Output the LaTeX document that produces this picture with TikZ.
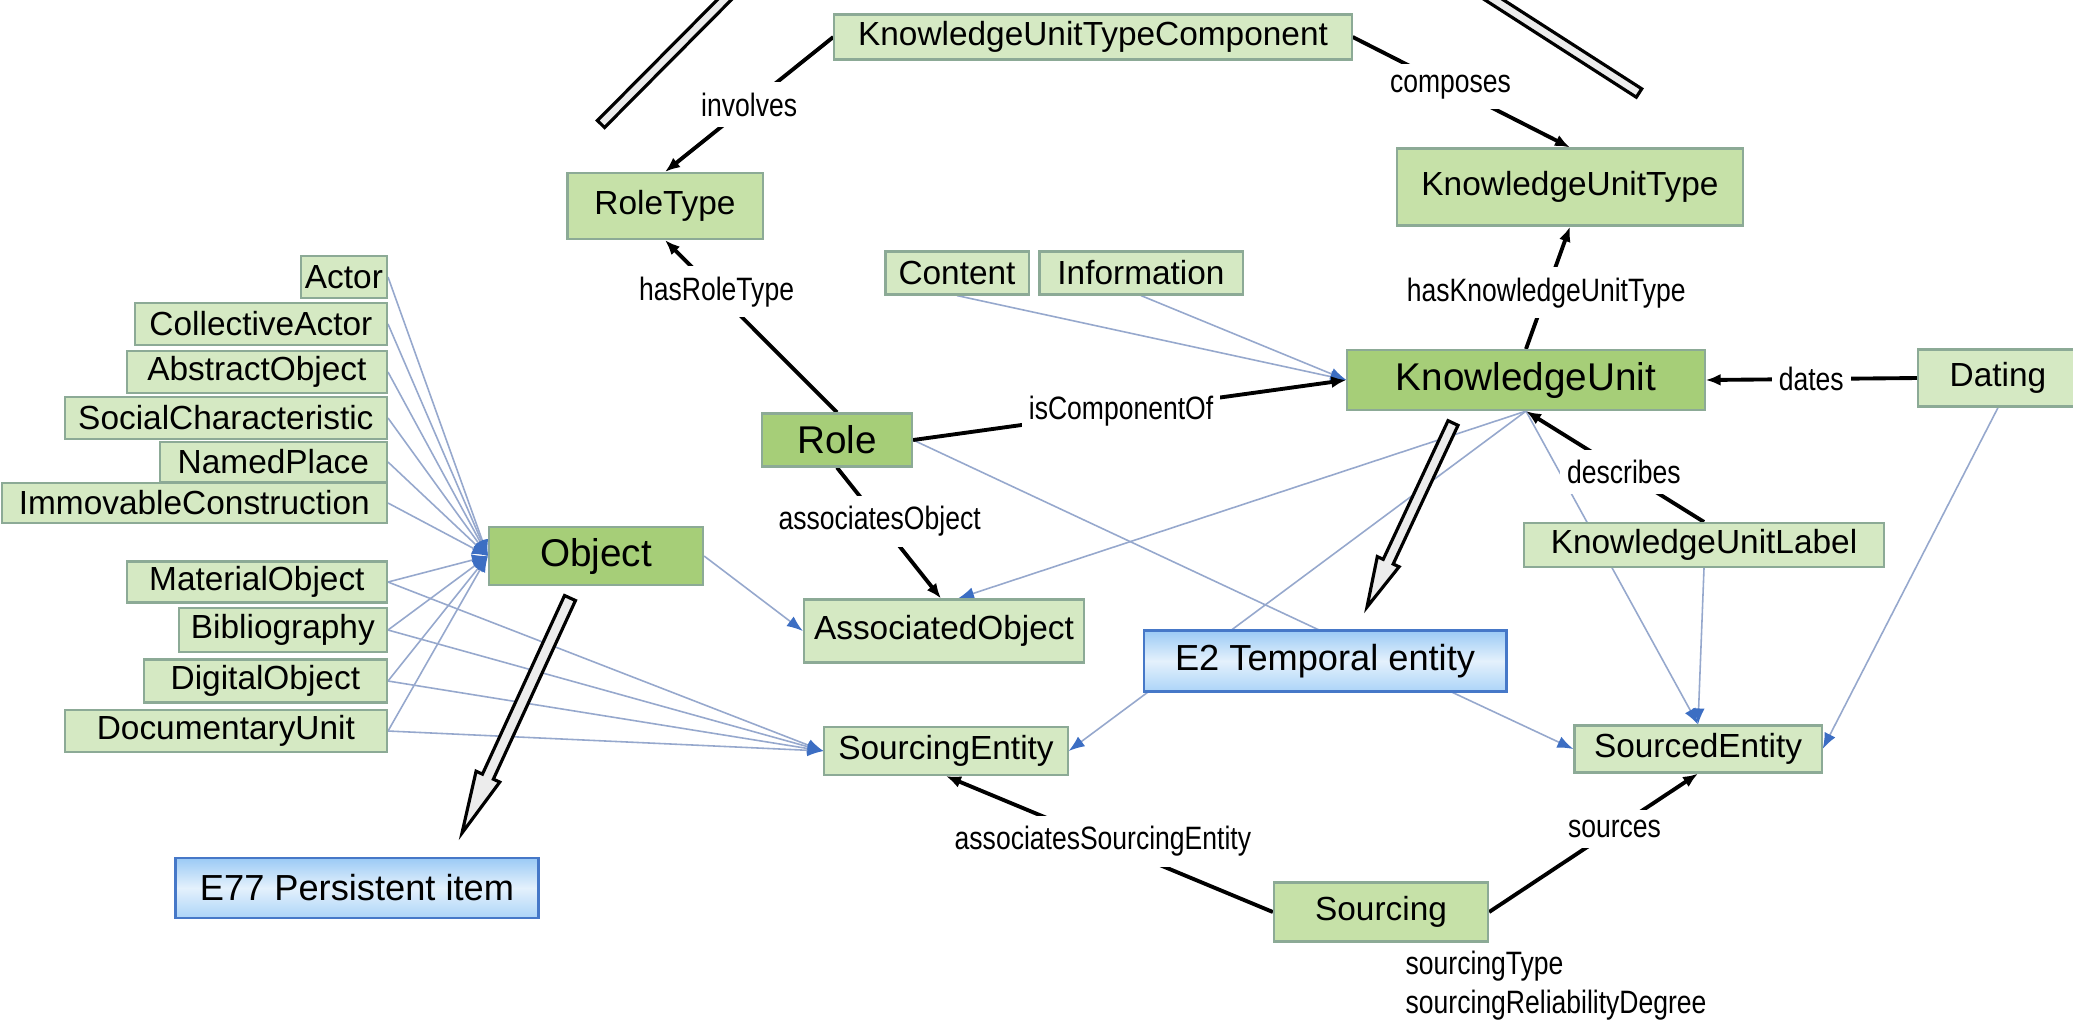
\documentclass[tikz,border=0pt]{standalone}
\usepackage{fontspec}
\setmainfont{Liberation Sans}
\newfontfamily\lblfont[FakeStretch=0.82]{Liberation Sans}
\usetikzlibrary{arrows.meta,calc,backgrounds}

\definecolor{boxfill}{RGB}{213,233,195}
\definecolor{boxmid}{RGB}{198,225,168}
\definecolor{boxdark}{RGB}{166,206,120}
\definecolor{boxline}{RGB}{140,170,150}
\definecolor{sublink}{RGB}{150,168,205}
\definecolor{subtip}{RGB}{60,110,195}
\definecolor{ebord}{RGB}{70,120,200}
\definecolor{etop}{RGB}{155,202,245}
\definecolor{emid}{RGB}{228,241,252}
\definecolor{ebot}{RGB}{172,212,248}
\definecolor{hollowgray}{RGB}{236,236,236}

\tikzset{
  cls/.style={draw=boxline, fill=boxfill, line width=0.6pt, inner sep=0pt,
    font=\fontsize{9.5}{11}\selectfont},
  clsmid/.style={cls, fill=boxmid},
  clsmain/.style={cls, fill=boxdark, font=\fontsize{11}{13}\selectfont},
  cidoc/.style={draw=ebord, line width=0.8pt, top color=etop, bottom color=ebot,
    middle color=emid, inner sep=0pt, font=\fontsize{10.3}{12}\selectfont},
  rel/.style={line width=1.1pt, -{Latex[length=0.15cm,width=0.12cm]}},
  sub/.style={draw=sublink, line width=0.45pt,
    -{Latex[length=0.16cm,width=0.12cm,color=subtip]}},
  lbl/.style={fill=white, inner xsep=2pt, inner ysep=3pt,
    font={\lblfont\fontsize{9.2}{11.3}\selectfont}},
  hollow/.style={draw=black, fill=hollowgray, line width=0.9pt, line join=miter},
}

% big hollow arrow: from, tip, shaft half width, head half width, head length
\newcommand{\hollowarrow}[5]{%
  \coordinate (hh) at ($(#2)!#5!(#1)$);
  \draw[hollow] ($(#1)!#3!90:(#2)$) -- ($(hh)!#3!90:(#2)$) -- ($(hh)!#4!90:(#2)$) -- (#2)
    -- ($(hh)!#4!-90:(#2)$) -- ($(hh)!#3!-90:(#2)$) -- ($(#1)!#3!-90:(#2)$) -- cycle;
}
% hollow bar: from, to, half width
\newcommand{\hollowbar}[3]{%
  \draw[hollow] ($(#1)!#3!90:(#2)$) -- ($(#2)!#3!-90:(#1)$)
    -- ($(#2)!#3!90:(#1)$) -- ($(#1)!#3!-90:(#2)$) -- cycle;
}

\begin{document}
\begin{tikzpicture}[x=0.01cm, y=-0.01cm]
  \useasboundingbox (0,0) rectangle (2073,1032);
  \clip (0,0) rectangle (2073,1032);

  % Knowledge unit part
  \node[cls, minimum width=5.17cm, minimum height=0.45cm] (kutc) at (1093,37) {KnowledgeUnitTypeComponent};
  \node[clsmid, minimum width=1.95cm, minimum height=0.66cm] (roletype) at (665,206) {RoleType};
  \node[clsmid, minimum width=3.45cm, minimum height=0.77cm] (kut) at (1570,187) {KnowledgeUnitType};
  \node[cls, minimum width=1.43cm, minimum height=0.43cm] (content) at (957,273) {Content};
  \node[cls, minimum width=2.03cm, minimum height=0.43cm] (information) at (1141,273) {Information};
  \node[clsmain, minimum width=3.57cm, minimum height=0.60cm] (ku) at (1526,380) {KnowledgeUnit};
  \node[cls, minimum width=1.60cm, minimum height=0.57cm] (dating) at (1998,378) {Dating};
  \node[clsmain, minimum width=1.50cm, minimum height=0.53cm] (role) at (837,440) {Role};
  \node[clsmain, minimum width=2.14cm, minimum height=0.58cm] (object) at (596,556) {Object};
  \node[cls, minimum width=2.80cm, minimum height=0.63cm] (assocobj) at (944,631) {AssociatedObject};
  \node[cls, minimum width=3.60cm, minimum height=0.44cm] (kul) at (1704,545) {KnowledgeUnitLabel};
  \node[cls, minimum width=2.43cm, minimum height=0.48cm] (sourcingent) at (946,751) {SourcingEntity};
  \node[cls, minimum width=2.47cm, minimum height=0.47cm] (sourcedent) at (1698,749) {SourcedEntity};
  \node[clsmid, minimum width=2.14cm, minimum height=0.59cm] (sourcing) at (1381,912) {Sourcing};
  \node[lbl, fill=none, inner sep=0pt, anchor=north west, align=left] (sattr) at (1405,950)
    {sourcingType\\sourcingReliabilityDegree};

  % Object subclasses
  \node[cls, anchor=east, minimum width=0.86cm, minimum height=0.42cm] (actor) at (388,277) {Actor};
  \node[cls, anchor=east, minimum width=2.52cm, minimum height=0.42cm] (collactor) at (388,324) {CollectiveActor};
  \node[cls, anchor=east, minimum width=2.60cm, minimum height=0.42cm] (abstractobj) at (388,372) {AbstractObject};
  \node[cls, anchor=east, minimum width=3.22cm, minimum height=0.42cm] (socialchar) at (388,418) {SocialCharacteristic};
  \node[cls, anchor=east, minimum width=2.27cm, minimum height=0.40cm] (namedplace) at (388,462) {NamedPlace};
  \node[cls, anchor=east, minimum width=3.85cm, minimum height=0.40cm] (immovable) at (388,503) {ImmovableConstruction};
  \node[cls, anchor=east, minimum width=2.60cm, minimum height=0.41cm] (materialobj) at (388,582) {MaterialObject};
  \node[cls, anchor=east, minimum width=2.08cm, minimum height=0.44cm] (biblio) at (388,630) {Bibliography};
  \node[cls, anchor=east, minimum width=2.43cm, minimum height=0.43cm] (digitalobj) at (388,681) {DigitalObject};
  \node[cls, anchor=east, minimum width=3.22cm, minimum height=0.42cm] (docunit) at (388,731) {DocumentaryUnit};

  % CIDOC CRM callouts
  \node[cidoc, minimum width=3.62cm, minimum height=0.61cm] (tempent) at (1325,661) {E2 Temporal entity};
  \node[cidoc, minimum width=3.63cm, minimum height=0.60cm] (persitem) at (357,888) {E77 Persistent item};

  \begin{scope}[on background layer]
    \fill[white] (0,0) rectangle (2073,1032);

    % subclass links
    \draw[sub] (actor.east) -- (object.west);
    \draw[sub] (collactor.east) -- (object.west);
    \draw[sub] (abstractobj.east) -- (object.west);
    \draw[sub] (socialchar.east) -- (object.west);
    \draw[sub] (namedplace.east) -- (object.west);
    \draw[sub] (immovable.east) -- (object.west);
    \draw[sub] (materialobj.east) -- (object.west);
    \draw[sub] (biblio.east) -- (object.west);
    \draw[sub] (digitalobj.east) -- (object.west);
    \draw[sub] (docunit.east) -- (object.west);
    \draw[sub] (materialobj.east) -- (sourcingent.west);
    \draw[sub] (biblio.east) -- (sourcingent.west);
    \draw[sub] (digitalobj.east) -- (sourcingent.west);
    \draw[sub] (docunit.east) -- (sourcingent.west);
    \draw[sub] (object.east) -- (assocobj.west);
    \draw[sub] (content.south) -- (ku.west);
    \draw[sub] (information.south) -- (ku.west);
    \draw[sub] (ku.south) -- ([xshift=0.14cm]assocobj.north);
    \draw[sub] (ku.south) -- (sourcingent.east);
    \draw[sub] (ku.south) -- (sourcedent.north);
    \draw[sub] (kul.south) -- (sourcedent.north);
    \draw[sub] (dating.south) -- (sourcedent.east);
    \draw[sub] (role.east) -- (sourcedent.west);

    % relations
    \draw[rel] (kutc.west) -- node[lbl, pos=0.5] {involves} (roletype.north);
    \draw[rel] (kutc.east) -- node[lbl, pos=0.45] {composes} (kut.north);
    \draw[rel] (ku.north) -- node[lbl, pos=0.46] {hasKnowledgeUnitType} (kut.south);
    \draw[rel] (role.north) -- node[lbl, pos=0.7] {hasRoleType} (roletype.south);
    \draw[rel] (role.east) -- node[lbl, pos=0.48] {isComponentOf} (ku.west);
    \draw[rel] (role.south) -- node[lbl, pos=0.41] {associatesObject} ([xshift=-0.03cm]assocobj.north);
    \draw[rel] (dating.west) -- node[lbl, pos=0.5] {dates} (ku.east);
    \draw[rel] (kul.north) -- node[lbl, pos=0.45] {describes} (ku.south);
    \draw[rel] (sourcing.west) -- node[lbl, pos=0.52] {associatesSourcingEntity} (sourcingent.south);
    \draw[rel] (sourcing.east) -- node[lbl, pos=0.6] {sources} (sourcedent.south);
  \end{scope}

  % hollow pointers
  \coordinate (e77from) at (570,598);
  \coordinate (e77tip) at (462,833);
  \coordinate (e2from) at (1453,423);
  \coordinate (e2tip) at (1367,607);
  \coordinate (barLtop) at (739,-15);
  \coordinate (barLend) at (601,124);
  \coordinate (barRtop) at (1471,-15);
  \coordinate (barRend) at (1639,93);
  \hollowarrow{e77from}{e77tip}{0.06cm}{0.13cm}{0.62cm}
  \hollowarrow{e2from}{e2tip}{0.055cm}{0.12cm}{0.5cm}
  \hollowbar{barLtop}{barLend}{0.05cm}
  \hollowbar{barRtop}{barRend}{0.05cm}
\end{tikzpicture}
\end{document}
